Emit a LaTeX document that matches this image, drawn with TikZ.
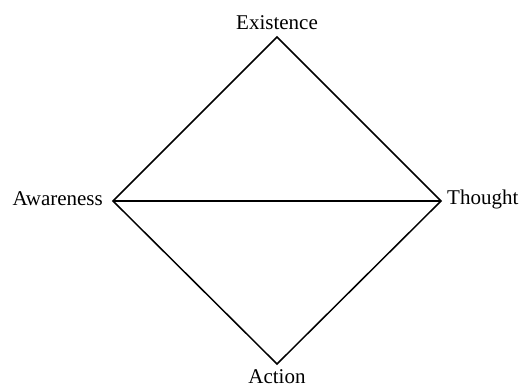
\documentclass[tikz,border=0pt]{standalone}
\usepackage{fontspec}
\setmainfont{Liberation Serif}
\begin{document}
\begin{tikzpicture}[x=1pt,y=-1pt,
  lbl/.style={font=\fontsize{21}{23}\selectfont, inner sep=3pt},
  edge/.style={line width=1.5pt, line join=miter}]
\useasboundingbox (0,0) rectangle (531,388);
\coordinate (T) at (277,37);
\coordinate (L) at (113,201);
\coordinate (R) at (441,201);
\coordinate (B) at (277,364);
\draw[edge] (T) -- (R) -- (B) -- (L) -- cycle;
\draw[edge] (L) -- (R);
\node[lbl, anchor=base] (ex) at (277,29) {Existence};
\node[lbl, anchor=east] (aw) at (106,199) {Awareness};
\node[lbl, anchor=west] (th) at (444,199) {Thought};
\node[lbl, anchor=base, inner sep=0pt] (ac) at (277,383) {Action};
\end{tikzpicture}
\end{document}
